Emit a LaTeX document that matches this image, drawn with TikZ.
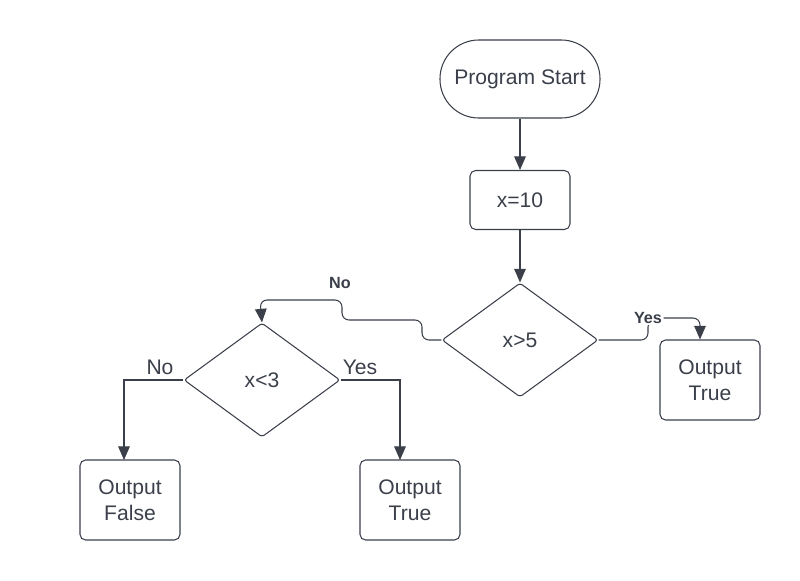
\documentclass[tikz,border=0pt]{standalone}
\usepackage{fontspec}
\setmainfont{Liberation Sans}
\usetikzlibrary{shapes.geometric,arrows.meta}
\definecolor{ink}{HTML}{3A3F4A}

\begin{document}
\begin{tikzpicture}[x=0.025cm,y=-0.025cm,
  every node/.style={text=ink},
  line/.style={draw=ink,line width=0.75pt},
  arrow/.style={line,-{Triangle[length=0.34cm,width=0.29cm]}},
  box/.style={line,rounded corners=4pt,minimum width=2.5cm,minimum height=2cm,align=center,font=\fontsize{15}{18.5}\selectfont},
  startbox/.style={box,minimum width=4cm,minimum height=1.95cm,rounded corners=0.97cm},
  decision/.style={line,diamond,rounded corners=2pt,inner sep=0pt,minimum width=3.9cm,minimum height=2.85cm,font=\fontsize{15}{18}\selectfont},
  lbl/.style={font=\fontsize{15}{18}\selectfont},
  boldlbl/.style={font=\bfseries\fontsize{11.5}{14}\selectfont}]
\useasboundingbox (0,0) rectangle (800,580);

\node[startbox] (start) at (520,79) {Program Start};
\node[box,minimum height=1.475cm] (init) at (520,200) {x=10};
\node[decision] (gt5) at (520,340) {x>5};
\node[decision] (lt3) at (262,380) {x<3};
\node[box] (out1) at (710,380) {Output\\True};
\node[box] (outF) at (130,500) {Output\\False};
\node[box] (outT) at (410,500) {Output\\True};

\draw[arrow] (start) -- (init);
\draw[arrow] (init) -- (gt5);

% no branch of x>5
\draw[arrow,rounded corners=5pt] (gt5.west) -- (422,340) -- (422,320) -- (342,320)
  -- (342,300) -- (260,300) -- (lt3.north);
\node[boldlbl] (no1) at (340,283) {No};

% yes branch of x>5
\draw[line,rounded corners=5pt] (gt5.east) -- (648,340) -- (648,320) -- (650,320);
\node[boldlbl,fill=white,inner sep=1pt] (yes1) at (648,318) {Yes};
\draw[arrow,rounded corners=5pt] (yes1.east) -- (700,318) -- (out1.north -| 700,0);

% branches of x<3
\draw[arrow] (lt3.west) -| (124,460);
\node[lbl] (no2) at (160,367) {No};
\draw[arrow] (lt3.east) -| (400,460);
\node[lbl] (yes2) at (360,367) {Yes};
\end{tikzpicture}
\end{document}
